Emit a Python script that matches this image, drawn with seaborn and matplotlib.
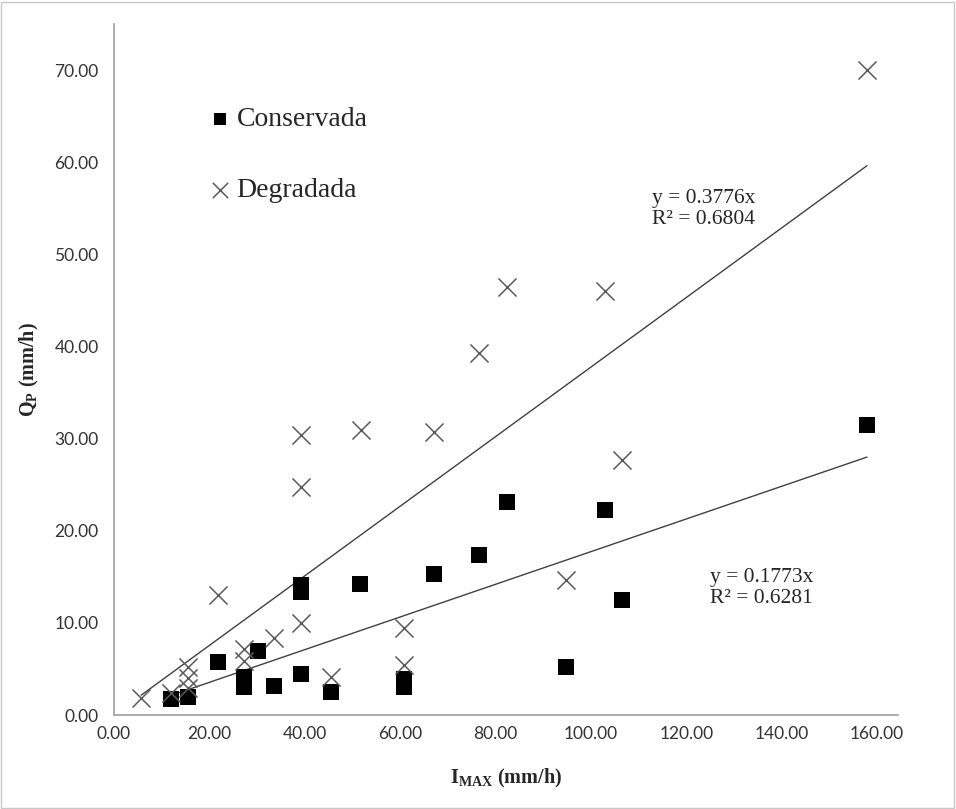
import numpy as np
import pandas as pd
import seaborn as sns
import matplotlib.pyplot as plt
from matplotlib.patches import Rectangle

# I_MAX (mm/h) and Q_P (mm/h)
cons_x = [11.9, 15.5, 21.8, 27.3, 27.3, 30.2, 33.5, 39.2, 39.2, 39.2, 45.4,
          51.5, 60.9, 60.9, 67.0, 76.6, 82.5, 94.7, 103.0, 106.6, 157.9]
cons_y = [1.7, 1.9, 5.75, 4.1, 3.0, 7.0, 3.2, 14.1, 13.3, 4.4, 2.5,
          14.2, 3.9, 3.0, 15.3, 17.4, 23.1, 5.2, 22.2, 12.5, 31.5]

degr_x = [5.7, 11.9, 15.5, 15.5, 15.5, 21.8, 27.3, 27.3, 33.5, 39.2, 39.2, 39.2,
          45.4, 51.7, 60.9, 60.9, 67.0, 76.6, 82.5, 94.7, 103.0, 106.6, 157.9]
degr_y = [1.8, 2.4, 5.2, 4.0, 2.9, 13.0, 7.2, 5.9, 8.4, 30.4, 24.7, 10.0,
          4.1, 30.9, 9.4, 5.4, 30.7, 39.3, 46.5, 14.6, 46.0, 27.7, 70.0]

slope_cons = 0.1773
r2_cons = 0.6281
slope_degr = 0.3776
r2_degr = 0.6804

x_ticks = [0, 20, 40, 60, 80, 100, 120, 140, 160]
y_ticks = [0, 10, 20, 30, 40, 50, 60, 70]

sns.set_style("white")
plt.rcParams['font.family'] = ['Liberation Serif', 'DejaVu Serif']
plt.rcParams['mathtext.fontset'] = 'custom'
plt.rcParams['mathtext.rm'] = 'Liberation Serif'
plt.rcParams['mathtext.bf'] = 'Liberation Serif:bold'

fig = plt.figure(figsize=(9.56, 8.09), dpi=100)
ax = fig.add_axes([114/956, 1 - 715/809, (898 - 114)/956, (715 - 24)/809])

# trendlines forced through the origin
xs = np.array([min(degr_x), max(degr_x)])
sns.lineplot(x=xs, y=slope_degr*xs, color='#404040', lw=1.0, ax=ax)
xs = np.array([min(cons_x), max(cons_x)])
sns.lineplot(x=xs, y=slope_cons*xs, color='#404040', lw=1.0, ax=ax)

sns.scatterplot(x=cons_x, y=cons_y, marker='s', s=117, color='black',
                linewidth=0, ax=ax, label='Conservada', zorder=3)
sns.scatterplot(x=degr_x, y=degr_y, marker='x', s=169, color='#5a5a5a',
                linewidth=1.1, ax=ax, label='Degradada', zorder=4)

ax.set_xlim(0, 164.4)
ax.set_ylim(0, 75)
ax.set_xticks(x_ticks)
ax.set_yticks(y_ticks)
ax.set_xticklabels([f'{v:.2f}' for v in x_ticks], family='Lato', fontsize=12.5, color='#333333')
ax.set_yticklabels([f'{v:.2f}' for v in y_ticks], family='Lato', fontsize=12.5, color='#333333')
ax.tick_params(axis='both', length=0)
ax.tick_params(axis='x', pad=8)
ax.tick_params(axis='y', pad=11)

for s in ['top', 'right']:
    ax.spines[s].set_visible(False)
for s in ['left', 'bottom']:
    ax.spines[s].set_color('#a6a6a6')
    ax.spines[s].set_linewidth(1.3)

ax.set_xlabel(r'$\mathbf{I}_{\mathbf{MAX}}$ (mm/h)', fontsize=14.5, fontweight='bold', labelpad=18)
ax.set_ylabel(r'$\mathbf{Q}_{\mathbf{P}}$ (mm/h)', fontsize=14.5, fontweight='bold', labelpad=10)

ax.text(112.9, 54.9, f'y = {slope_degr}x\nR² = {r2_degr}', fontsize=15.5,
        va='center', ha='left', linespacing=1.1)
ax.text(125.0, 13.8, f'y = {slope_cons}x\nR² = {r2_cons}', fontsize=15.5,
        va='center', ha='left', linespacing=1.1)

ax.legend(loc='center left', bbox_to_anchor=(206/956, 1 - 155/809),
          bbox_transform=fig.transFigure, frameon=False, fontsize=20,
          borderpad=0, handlelength=1.0, handletextpad=0.1, labelspacing=1.65,
          borderaxespad=0, markerscale=0.85)

fig.patches.append(Rectangle((0.001, 0.001), 0.997, 0.997, transform=fig.transFigure,
                             fill=False, edgecolor='#c8c8c8', lw=1))

fig.savefig('out.png', dpi=100)
